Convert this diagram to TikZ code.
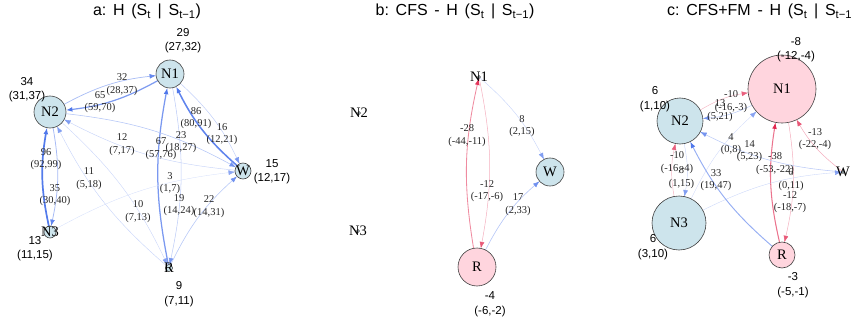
\documentclass[tikz,border=0pt]{standalone}
\usepackage{fontspec}
\setmainfont{Liberation Serif}
\newfontfamily\hvf{Liberation Sans}
\usetikzlibrary{arrows.meta}
\definecolor{eblue}{RGB}{80,120,235}
\definecolor{ered}{RGB}{225,40,80}
\definecolor{nblue}{RGB}{205,228,236}
\definecolor{npink}{RGB}{255,213,222}
\pgfdeclarelayer{edges}
\pgfsetlayers{edges,main}
\newcommand{\tsp}{\hspace{0.42em}}
\newcommand{\myedge}[5]{%
  \pgfmathsetmacro\ew{0.25+abs(#2)*#5*0.015}%
  \pgfmathtruncatemacro\ep{min(100,24+abs(#2)*#5*0.78)}%
  \pgfmathtruncatemacro\ap{min(100,\ep+40)}%
  \colorlet{lc}{#1!\ep!white}\colorlet{ac}{#1!\ap!white}%
  \draw[line width=\ew pt, draw=lc, -{Latex[length=6.5pt,width=4.8pt,color=ac]}] (#3) to[bend left=11] (#4);}
\tikzset{
  vtx/.style={circle, draw=black!75, line width=0.6pt, inner sep=0pt, outer sep=0pt, minimum size=#1},
  vb/.style={fill=nblue}, vp/.style={fill=npink},
  vlab/.style={font=\fontsize{14.5}{14.5}\selectfont, inner sep=0pt},
  elab/.style={font=\fontsize{10.5}{12.5}\selectfont, align=center, inner sep=0pt, text=black!85},
  ann/.style={font=\hvf\fontsize{11.5}{14.5}\selectfont, align=center, inner sep=0pt},
  ttl/.style={font=\hvf\fontsize{16}{16}\selectfont, inner sep=0pt, anchor=base}
}
\begin{document}
\begin{tikzpicture}[x=1pt,y=-1pt]
\useasboundingbox (0,0) rectangle (851,326);
% titles
\node[ttl] (ta) at (147,15.5) {a:\tsp H\tsp (S\textsubscript{t}\tsp |\tsp S\textsubscript{t−1})};
\node[ttl] (tb) at (455,15.5) {b:\tsp CFS\tsp -\tsp H\tsp (S\textsubscript{t}\tsp |\tsp S\textsubscript{t−1})};
\node[ttl, anchor=base west] (tc) at (667,15.5) {c:\tsp CFS+FM\tsp -\tsp H\tsp (S\textsubscript{t}\tsp |\tsp S\textsubscript{t−1})};
% panel a nodes
\node[vtx=28pt, vb, label={[vlab]center:N1}] (aN1) at (170,74) {};
\node[vtx=32pt, vb, label={[vlab]center:N2}] (aN2) at (50,112) {};
\node[vtx=12pt, vb, label={[vlab]center:N3}] (aN3) at (50,232) {};
\node[vtx=16pt, vb, label={[vlab]center:W}] (aW) at (243,171) {};
\node[vtx=7pt, vb, label={[vlab]center:R}] (aR) at (169,268) {};
% panel b nodes
\node[vtx=3pt, vb, label={[vlab]center:N1}] (bN1) at (479,77) {};
\node[vtx=3pt, vb, label={[vlab]center:N2}] (bN2) at (359,113) {};
\node[vtx=3pt, vb, label={[vlab]center:N3}] (bN3) at (358,231) {};
\node[vtx=28pt, vb, label={[vlab]center:W}] (bW) at (550,172) {};
\node[vtx=38pt, vp, label={[vlab]center:R}] (bR) at (477,267) {};
% panel c nodes
\node[vtx=68pt, vp, label={[vlab]center:N1}] (cN1) at (782,89) {};
\node[vtx=46pt, vb, label={[vlab]center:N2}] (cN2) at (680,121) {};
\node[vtx=54pt, vb, label={[vlab]center:N3}] (cN3) at (679,223) {};
\node[vtx=3pt, vb, label={[vlab]center:W}] (cW) at (843,172) {};
\node[vtx=26pt, vp, label={[vlab]center:R}] (cR) at (782,255) {};
% node annotations
\node[ann] (qa1) at (183,40.5) {29\\(27,32)};
\node[ann] (qa2) at (27,89.5) {34\\(31,37)};
\node[ann] (qa3) at (35,248.5) {13\\(11,15)};
\node[ann] (qa4) at (272,171.5) {15\\(12,17)};
\node[ann] (qa5) at (179,294) {9\\(7,11)};
\node[ann] (qb1) at (490,304) {-4\\(-6,-2)};
\node[ann] (qc1) at (796,49.5) {-8\\(-12,-4)};
\node[ann] (qc2) at (655,99) {6\\(1,10)};
\node[ann] (qc3) at (653,247) {6\\(3,10)};
\node[ann] (qc4) at (793,285) {-3\\(-5,-1)};
\begin{pgfonlayer}{edges}
% panel a edges
\myedge{eblue}{32}{aN2}{aN1}{1}
\myedge{eblue}{65}{aN1}{aN2}{1}
\myedge{eblue}{96}{aN3}{aN2}{1}
\myedge{eblue}{35}{aN2}{aN3}{1}
\myedge{eblue}{86}{aW}{aN1}{1}
\myedge{eblue}{16}{aN1}{aW}{1}
\myedge{eblue}{67}{aR}{aN1}{1}
\myedge{eblue}{19}{aN1}{aR}{1}
\myedge{eblue}{12}{aW}{aN2}{1}
\myedge{eblue}{23}{aN2}{aW}{1}
\myedge{eblue}{11}{aR}{aN2}{1}
\myedge{eblue}{10}{aN2}{aR}{1}
\myedge{eblue}{22}{aR}{aW}{1}
\myedge{eblue}{3}{aN3}{aW}{1}
% panel b edges
\myedge{ered}{-28}{bR}{bN1}{1.4}
\myedge{ered}{-12}{bN1}{bR}{1.4}
\myedge{eblue}{8}{bN1}{bW}{1.4}
\myedge{eblue}{17}{bR}{bW}{1.4}
% panel c edges
\myedge{ered}{-10}{cN2}{cN1}{1.4}
\myedge{eblue}{13}{cN1}{cN2}{1.4}
\myedge{ered}{-10}{cN3}{cN2}{1.4}
\myedge{eblue}{8}{cN2}{cN3}{1.4}
\myedge{ered}{-38}{cR}{cN1}{1.4}
\myedge{ered}{-12}{cN1}{cR}{1.4}
\myedge{eblue}{4}{cN3}{cN1}{1.4}
\myedge{eblue}{14}{cW}{cN2}{1.4}
\myedge{eblue}{6}{cN3}{cW}{1.4}
\myedge{ered}{-13}{cW}{cN1}{1.4}
\myedge{eblue}{33}{cR}{cN2}{1.4}
% edge labels a
\node[elab] (ea32) at (122,84.5) {32\\(28,37)};
\node[elab] (ea65) at (100,102) {65\\(59,70)};
\node[elab] (ea96) at (46,159) {96\\(92,99)};
\node[elab] (ea35) at (55,195) {35\\(30,40)};
\node[elab] (ea86) at (196,118) {86\\(80,91)};
\node[elab] (ea16) at (222,134) {16\\(12,21)};
\node[elab] (ea12) at (122,144.5) {12\\(7,17)};
\node[elab] (ea23) at (181,142) {23\\(18,27)};
\node[elab] (ea67) at (161,148.5) {67\\(57,76)};
\node[elab] (ea3) at (170,183) {3\\(1,7)};
\node[elab] (ea19) at (179,205) {19\\(14,24)};
\node[elab] (ea22) at (209,206.5) {22\\(14,31)};
\node[elab] (ea11) at (89,178.5) {11\\(5,18)};
\node[elab] (ea10) at (138,211.5) {10\\(7,13)};
% edge labels b
\node[elab] (eb28) at (467,135.5) {-28\\(-44,-11)};
\node[elab] (eb8) at (522,126) {8\\(2,15)};
\node[elab] (eb12) at (487,191) {-12\\(-17,-6)};
\node[elab] (eb17) at (518,204.5) {17\\(2,33)};
% edge labels c
\node[elab] (ec10a) at (731,101.5) {-10\\(-16,-3)};
\node[elab] (ec13) at (720,110.5) {13\\(5,21)};
\node[elab] (ec4) at (731,144) {4\\(0,8)};
\node[elab] (ec14) at (749.5,151) {14\\(5,23)};
\node[elab] (ec38) at (775,163.5) {-38\\(-53,-22)};
\node[elab] (ec6) at (791,179.5) {6\\(0,11)};
\node[elab] (ec12) at (790,202) {-12\\(-18,-7)};
\node[elab] (ec10b) at (677,162.5) {-10\\(-16,-4)};
\node[elab] (ec8) at (681.5,177.5) {8\\(1,15)};
\node[elab] (ec33) at (716,180) {33\\(19,47)};
\node[elab] (ec13b) at (815,139) {-13\\(-22,-4)};
\end{pgfonlayer}
\end{tikzpicture}
\end{document}
